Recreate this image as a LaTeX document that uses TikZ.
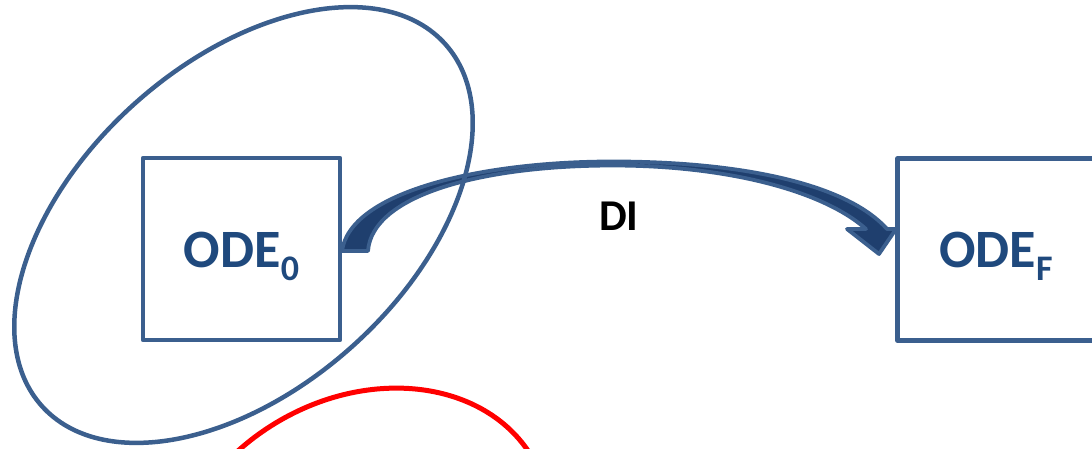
\documentclass[tikz,border=0pt]{standalone}
\usepackage{fontspec}
\setmainfont{Carlito}
\definecolor{boxblue}{HTML}{3B5F8E}
\definecolor{txtblue}{HTML}{1F497D}
\definecolor{arrowfill}{HTML}{1F3F6E}
\begin{document}
\begin{tikzpicture}[x=1pt,y=1pt,
  odebox/.style={draw=boxblue,line width=4.5pt,line join=round,minimum width=197pt,minimum height=182pt,inner sep=0pt},
  odelbl/.style={text=txtblue,font=\fontsize{54}{54}\selectfont\bfseries,anchor=base,inner sep=0pt},
  dilbl/.style={text=black,font=\fontsize{44}{44}\selectfont\bfseries,anchor=base,inner sep=0pt}]
\useasboundingbox (0,0) rectangle (1092,-449);
\newcommand{\odesub}[1]{\raisebox{-13.5pt}{\fontsize{36}{36}\selectfont #1}}
% red ellipse
\draw[red,line width=5pt] (360,-559) ellipse[x radius=200,y radius=160,rotate=30];
% curved block arrow
\filldraw[fill=arrowfill,draw=boxblue,line width=3.8pt,line join=round]
  (342,-251) .. controls (350,-192) and (480,-161.5) .. (613,-161.5)
  .. controls (735,-161.5) and (845,-182) .. (887,-229)
  -- (896,-229) -- (879,-254) -- (847,-229) -- (866,-229)
  .. controls (822,-190) and (725,-165.5) .. (613,-165.5)
  .. controls (482,-165.5) and (372,-195) .. (368,-251) -- cycle;
% boxes
\node[odebox] (ode0) at (241.5,-249) {};
\node[odebox] (odeF) at (996,-249.5) {};
\node[odelbl] (ode0t) at (241.5,-267) {ODE\odesub{0}};
\node[odelbl] (odeFt) at (996,-267) {ODE\odesub{F}};
\node[dilbl] (di) at (619,-230) {DI};
% blue ellipse
\draw[boxblue,line width=4.5pt] (243.5,-225) ellipse[x radius=271,y radius=163,rotate=41.9];
\end{tikzpicture}
\end{document}
